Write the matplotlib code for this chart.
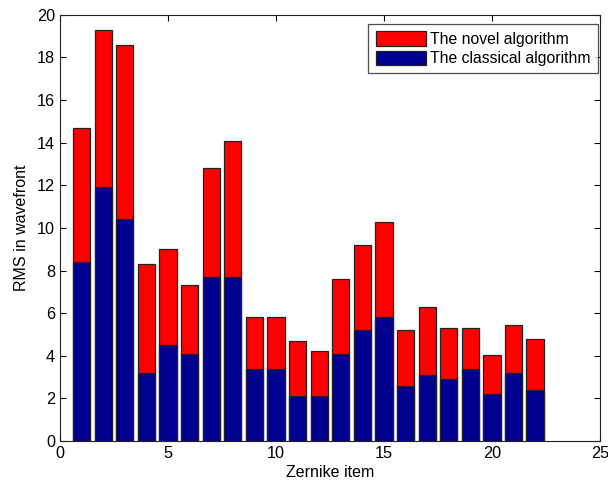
import numpy as np
import matplotlib
matplotlib.use("Agg")
import matplotlib.pyplot as plt

plt.rcParams["font.family"] = ["Liberation Sans", "DejaVu Sans"]

items = np.arange(1, 23)
novel_rms = [14.7, 19.3, 18.6, 8.3, 9.0, 7.3, 12.8, 14.1, 5.8, 5.8, 4.7,
             4.2, 7.6, 9.2, 10.3, 5.2, 6.3, 5.3, 5.3, 4.05, 5.45, 4.8]
classical_rms = [8.4, 11.9, 10.4, 3.2, 4.5, 4.1, 7.7, 7.7, 3.4, 3.4, 2.1,
                 2.1, 4.1, 5.2, 5.8, 2.6, 3.1, 2.9, 3.4, 2.2, 3.2, 2.4]

fig = plt.figure(figsize=(6.08, 4.87), dpi=100)
ax = fig.add_axes([0.0987, 0.0945, 0.888, 0.875])

ax.bar(items, novel_rms, width=0.8, color="#ff0000", edgecolor="#222222",
       linewidth=0.9, label="The novel algorithm", zorder=2)
ax.bar(items, classical_rms, width=0.8, color="#000090", edgecolor="#222222",
       linewidth=0.9, label="The classical algorithm", zorder=3)

ax.set_xlim(0, 25)
ax.set_ylim(0, 20)
ax.set_xticks(np.arange(0, 26, 5))
ax.set_yticks(np.arange(0, 21, 2))
ax.tick_params(direction="in", top=True, right=True, labelsize=11.7, length=4)
ax.set_xlabel("Zernike item", fontsize=11.5, labelpad=3)
ax.set_ylabel("RMS in wavefront", fontsize=11.5, labelpad=6)
for s in ax.spines.values():
    s.set_color("#222222")

leg = ax.legend(loc="upper right", bbox_to_anchor=(598 / 608, 1 - 24 / 487),
                bbox_transform=fig.transFigure, borderaxespad=0,
                fontsize=11.3, frameon=True, fancybox=False,
                edgecolor="#222222", handlelength=3.2, handleheight=1.05,
                handletextpad=0.3, labelspacing=0.25, borderpad=0.45)
leg.get_frame().set_linewidth(0.9)

fig.savefig("out.png", dpi=100)
